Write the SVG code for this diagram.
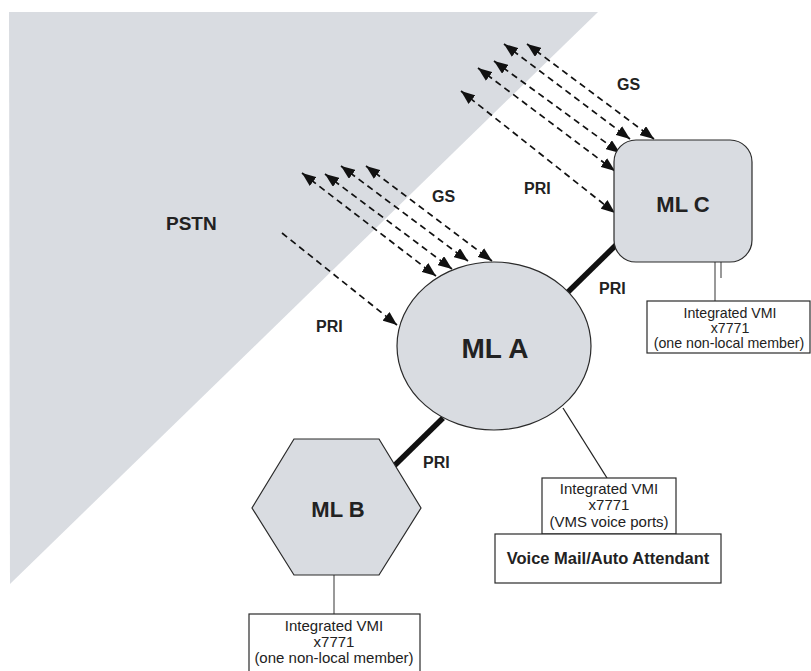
<svg xmlns="http://www.w3.org/2000/svg" width="811" height="671" viewBox="0 0 811 671">
<defs>
<style>
.shape{fill:#d9dce1;stroke:#2a2a2a;stroke-width:1.2}
.box{fill:#fff;stroke:#2a2a2a;stroke-width:1.2}
.dash{fill:none;stroke:#111;stroke-width:1.7;stroke-dasharray:6.5,4.5}
.thick{stroke:#111;stroke-width:5.5;fill:none}
.thin{stroke:#222;stroke-width:1.3;fill:none}
.gray{stroke:#555;stroke-width:1.2;fill:none}
.lbl{font-family:"Liberation Sans",Arial,sans-serif;font-weight:bold;fill:#222}
.txt{font-family:"Liberation Sans",Arial,sans-serif;font-size:15px;fill:#222;text-anchor:middle}
.txs{font-family:"Liberation Sans",Arial,sans-serif;font-size:14.2px;fill:#222;text-anchor:middle}
</style>
<marker id="ah" markerUnits="userSpaceOnUse" markerWidth="14" markerHeight="11" refX="14" refY="5.5" orient="auto-start-reverse" viewBox="0 0 14 11">
<path d="M0,0 L14,5.5 L0,11 z" fill="#111"/>
</marker>
</defs>
<rect width="811" height="671" fill="#fff"/>
<g id="pstn">
<polygon points="9,12 598,12 10,584" fill="#d9dce1"/>
<text class="lbl" x="166" y="230" font-size="19">PSTN</text>
</g>
<g id="connectors">
<path class="dash" d="M302,173 L436,276" marker-start="url(#ah)" marker-end="url(#ah)"/>
<path class="dash" d="M325,174 L452,269" marker-start="url(#ah)" marker-end="url(#ah)"/>
<path class="dash" d="M341,166 L468,261" marker-start="url(#ah)" marker-end="url(#ah)"/>
<path class="dash" d="M366,166 L492,261" marker-start="url(#ah)" marker-end="url(#ah)"/>
<path class="dash" d="M282,233 L397,325" marker-end="url(#ah)"/>
<path class="dash" d="M504,44 L630,139" marker-start="url(#ah)" marker-end="url(#ah)"/>
<path class="dash" d="M527,44 L654,139" marker-start="url(#ah)" marker-end="url(#ah)"/>
<path class="dash" d="M494,61 L620,153" marker-start="url(#ah)" marker-end="url(#ah)"/>
<path class="dash" d="M478,68 L615,171" marker-start="url(#ah)" marker-end="url(#ah)"/>
<path class="dash" d="M461,91 L615,213" marker-start="url(#ah)" marker-end="url(#ah)"/>
<line class="thick" x1="443" y1="418" x2="394" y2="466"/>
<line class="thick" x1="567" y1="293" x2="616" y2="245"/>
<line class="thin" x1="563" y1="408" x2="607" y2="478"/>
<line class="gray" x1="715" y1="262" x2="715" y2="301"/>
<line class="gray" x1="721" y1="262" x2="721" y2="278"/>
<line class="gray" x1="334" y1="575" x2="334" y2="614"/>
<text class="lbl" x="432" y="202" font-size="16">GS</text>
<text class="lbl" x="617" y="90" font-size="16">GS</text>
<text class="lbl" x="524" y="194" font-size="16">PRI</text>
<text class="lbl" x="316" y="332" font-size="16">PRI</text>
<text class="lbl" x="599" y="294" font-size="16">PRI</text>
<text class="lbl" x="423" y="468" font-size="16">PRI</text>
</g>
<g id="ml-a">
<ellipse class="shape" cx="494" cy="346" rx="97" ry="84"/>
<text class="lbl" x="495" y="358" font-size="28" text-anchor="middle">ML A</text>
</g>
<g id="ml-c">
<rect class="shape" x="614" y="140" width="138" height="122" rx="22"/>
<text class="lbl" x="683" y="212" font-size="22" text-anchor="middle">ML C</text>
</g>
<g id="ml-b">
<polygon class="shape" points="294,439 379,439 421,508 379,575 294,575 252,508"/>
<text class="lbl" x="338" y="517" font-size="22" text-anchor="middle">ML B</text>
</g>
<g id="vmi-a">
<rect class="box" x="542" y="478" width="134" height="56"/>
<text class="txt" x="609" y="494">Integrated VMI</text>
<text class="txt" x="609" y="510">x7771</text>
<text class="txt" x="609" y="527">(VMS voice ports)</text>
</g>
<g id="voicemail">
<rect class="box" x="495" y="534" width="226" height="49"/>
<text class="lbl" x="608" y="564" font-size="16.5" text-anchor="middle">Voice Mail/Auto Attendant</text>
</g>
<g id="vmi-c">
<rect class="box" x="647" y="301" width="163" height="52"/>
<text class="txs" x="730" y="318">Integrated VMI</text>
<text class="txs" x="730" y="333">x7771</text>
<text class="txs" x="729" y="348">(one non-local member)</text>
</g>
<g id="vmi-b">
<rect class="box" x="249" y="614" width="171" height="70"/>
<text class="txt" x="334" y="631">Integrated VMI</text>
<text class="txt" x="334" y="647">x7771</text>
<text class="txt" x="334" y="663">(one non-local member)</text>
</g>
</svg>
